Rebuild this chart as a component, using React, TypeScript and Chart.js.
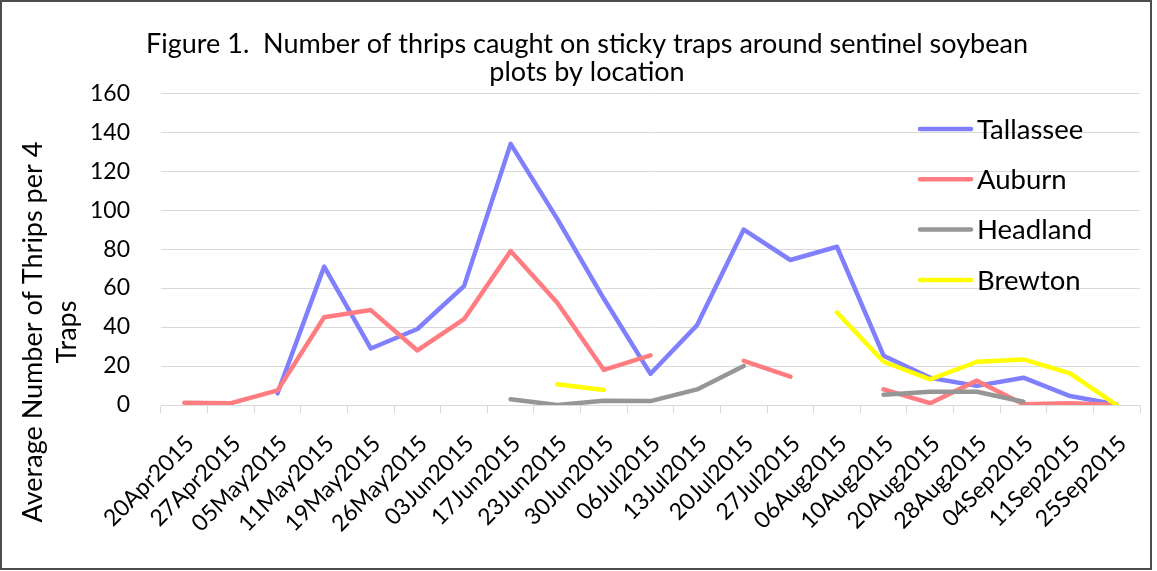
import React, { useEffect, useRef } from "react";
import { Chart, registerables } from "chart.js";

Chart.register(...registerables);

const categories = [
  "20Apr2015", "27Apr2015", "05May2015", "11May2015", "19May2015", "26May2015",
  "03Jun2015", "17Jun2015", "23Jun2015", "30Jun2015", "06Jul2015", "13Jul2015",
  "20Jul2015", "27Jul2015", "06Aug2015", "10Aug2015", "20Aug2015", "28Aug2015",
  "04Sep2015", "11Sep2015", "25Sep2015",
];

const tallassee = [null, null, 6, 71, 29, 39, 61, 134, 95.5, 54.5, 16, 41, 90, 74.4, 81.2, 25.3, 14, 9.8, 14, 4.6, 0.3];
const auburn = [1.2, 0.9, 7.5, 45, 48.7, 28, 44, 79, 52.5, 18, 25.5, null, 22.7, 14.5, null, 8, 0.9, 12.5, 0.4, 0.9, 0];
const headland = [null, null, null, null, null, null, null, 2.9, 0, 2.2, 2, 8, 20, null, null, 5.2, 6.8, 6.8, 1.7, null, null];
const brewton = [null, null, null, null, null, null, null, null, 10.6, 7.7, null, null, null, null, 47.5, 22.2, 13.2, 22.2, 23.4, 16.2, 0];

const seriesNames = ["Tallassee", "Auburn", "Headland", "Brewton"];
const seriesColors = ["#8080FF", "#FF7C80", "#969696", "#FFFF00"];

const titleLines = [
  "Figure 1.  Number of thrips caught on sticky traps around sentinel soybean",
  "plots by location",
];
const yTitleLines = ["Average Number of Thrips per 4", "Traps"];

const FONT = "Lato, 'Noto Sans', sans-serif";

export default function App() {
  const ref = useRef<HTMLCanvasElement>(null);

  useEffect(() => {
    document.body.style.margin = "0";
    const canvas = ref.current!;

    const decor = {
      id: "decor",
      beforeDraw(chart: any) {
        const c = chart.ctx;
        c.save();
        c.fillStyle = "#ffffff";
        c.fillRect(0, 0, chart.width, chart.height);
        c.restore();
      },
      afterDraw(chart: any) {
        const c = chart.ctx;
        c.save();
        // y axis title
        c.fillStyle = "#000";
        c.font = `27px ${FONT}`;
        c.textAlign = "center";
        c.textBaseline = "middle";
        const xs = [33, 67];
        yTitleLines.forEach((t, i) => {
          c.save();
          c.translate(xs[i], 332);
          c.rotate(-Math.PI / 2);
          c.fillText(t, 0, 0);
          c.restore();
        });
        // legend
        chart.data.datasets.forEach((ds: any, i: number) => {
          const y = 129 + i * 50.3;
          c.strokeStyle = ds.borderColor;
          c.lineWidth = 4.5;
          c.lineCap = "round";
          c.beginPath();
          c.moveTo(920, y);
          c.lineTo(971, y);
          c.stroke();
          c.fillStyle = "#000";
          c.font = `27.5px ${FONT}`;
          c.textAlign = "left";
          c.textBaseline = "middle";
          c.fillText(ds.label, 977, y + 1);
        });
        // frame
        c.strokeStyle = "#4d4d4d";
        c.lineWidth = 2;
        c.strokeRect(1, 1, 1150, 568);
        c.restore();
      },
    };

    const series = [tallassee, auburn, headland, brewton];
    const chart = new Chart(canvas, {
      type: "line",
      data: {
        labels: categories,
        datasets: series.map((d, i) => ({
          label: seriesNames[i],
          data: d,
          borderColor: seriesColors[i],
          backgroundColor: seriesColors[i],
          borderWidth: 4.5,
          borderCapStyle: "round",
          borderJoinStyle: "round",
          pointRadius: 0,
          pointHoverRadius: 0,
          spanGaps: false,
          tension: 0,
          order: 4 - i,
        })),
      },
      options: {
        responsive: false,
        animation: false,
        events: [],
        layout: { padding: { left: 34, right: 17, top: 0, bottom: 0 } },
        plugins: {
          legend: { display: false },
          tooltip: { enabled: false },
          title: {
            display: true,
            text: titleLines,
            color: "#000",
            font: { family: FONT, size: 27, weight: "normal", lineHeight: 1.04 },
            padding: { top: 30, bottom: 7 },
          },
        },
        scales: {
          x: {
            type: "category",
            offset: true,
            afterFit: (s: any) => { s.height = 166; },
            grid: {
              offset: true,
              drawOnChartArea: false,
              drawTicks: true,
              tickLength: 8,
              color: "#d9d9d9",
            },
            border: { display: true, color: "#d9d9d9", width: 1 },
            ticks: {
              autoSkip: false,
              maxRotation: 45,
              minRotation: 45,
              color: "#000",
              padding: 17,
              labelOffset: 6,
              font: { family: FONT, size: 23 },
            },
          },
          y: {
            min: 0,
            max: 160,
            afterFit: (s: any) => { s.width = 127; },
            grid: { color: "#d9d9d9", drawTicks: false, lineWidth: 1 },
            border: { display: false },
            ticks: {
              stepSize: 20,
              color: "#000",
              padding: 31,
              font: { family: FONT, size: 23 },
            },
          },
        },
      },
      plugins: [decor],
    });

    return () => chart.destroy();
  }, []);

  return (
    <div style={{ width: 1157, height: 571 }}>
      <canvas ref={ref} width={1157} height={571} />
    </div>
  );
}
